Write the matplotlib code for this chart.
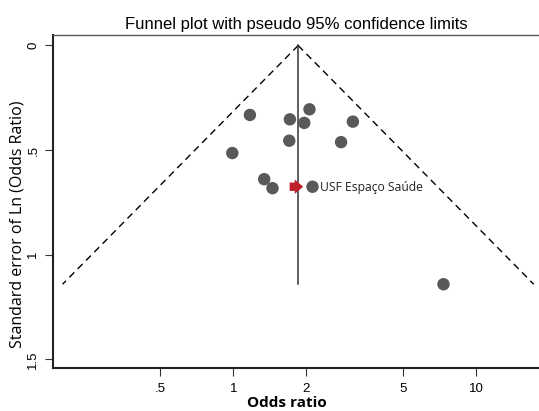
import numpy as np
import matplotlib
matplotlib.use("Agg")
import matplotlib.pyplot as plt

# study estimates
odds_ratio = [1.17, 1.71, 2.06, 1.96, 3.11, 1.70, 2.78, 0.99, 1.34, 1.45, 2.12, 7.35]
std_err = [0.332, 0.353, 0.305, 0.370, 0.364, 0.455, 0.462, 0.514, 0.639, 0.682, 0.675, 1.141]
pooled_or = 1.85
xticks = [0.5, 1, 2, 5, 10]
xtick_labels = [".5", "1", "2", "5", "10"]
yticks = [0, 0.5, 1, 1.5]
ytick_labels = ["0", ".5", "1", "1.5"]
highlight = 10  # USF Espaço Saúde
highlight_label = "USF Espaço Saúde"

fig = plt.figure(figsize=(5.39, 4.11), dpi=100)
ax = fig.add_axes([0.0989, 0.1053, 0.9011, 0.8095])

# pseudo 95% limits
se_max = max(std_err)
se_line = np.array([0, se_max])
ax.plot(pooled_or * np.exp(-1.96 * se_line), se_line, color="black", lw=1, ls=(0, (5, 3.5)))
ax.plot(pooled_or * np.exp(1.96 * se_line), se_line, color="black", lw=1, ls=(0, (5, 3.5)))
ax.plot([pooled_or, pooled_or], [0, se_max], color="#333333", lw=1.1)

ax.scatter(odds_ratio, std_err, s=80, color="#595959", edgecolors="none", zorder=3)

# block arrow pointing at the highlighted unit
hx, hy = odds_ratio[highlight], std_err[highlight]
ax.annotate("", xy=(hx * 0.915, hy), xytext=(hx * 0.805, hy),
            arrowprops=dict(arrowstyle="simple,head_length=0.55,head_width=0.95,tail_width=0.55",
                            mutation_scale=11, color="#c0202a", lw=0,
                            shrinkA=0, shrinkB=0), zorder=4)
ax.text(hx * 1.075, hy + 0.005, highlight_label, fontsize=8.7, family="Open Sans",
        va="center", ha="left", color="#222222")

ax.set_xscale("log")
ax.set_xlim(0.181, 18.2)
ax.set_ylim(1.54, -0.05)
ax.set_xticks(xticks)
ax.set_xticklabels(xtick_labels)
ax.minorticks_off()
ax.set_yticks(yticks)
ax.set_yticklabels(ytick_labels, rotation=90, va="center")
ax.tick_params(labelsize=9.5, length=6, width=0.8, color="#333333")
ax.tick_params(axis="x", pad=5)
ax.tick_params(axis="y", pad=4)
for lab in ax.get_xticklabels() + ax.get_yticklabels():
    lab.set_family("Liberation Sans")

ax.spines["right"].set_visible(False)
for side in ["left", "bottom"]:
    ax.spines[side].set_linewidth(1.5)
    ax.spines[side].set_color("#222222")
ax.spines["top"].set_linewidth(1.0)
ax.spines["top"].set_color("#555555")

ax.set_title("Funnel plot with pseudo 95% confidence limits", fontsize=12,
             family="Liberation Sans", pad=4)
ax.set_xlabel("Odds ratio", fontsize=11, fontweight="bold", family="Open Sans")
ax.set_ylabel("Standard error of Ln (Odds Ratio)", fontsize=11.5, family="Open Sans")
ax.xaxis.set_label_coords(0.48, -0.085)
ax.yaxis.set_label_coords(-0.058, 0.43)

fig.savefig("out.png", dpi=100)
